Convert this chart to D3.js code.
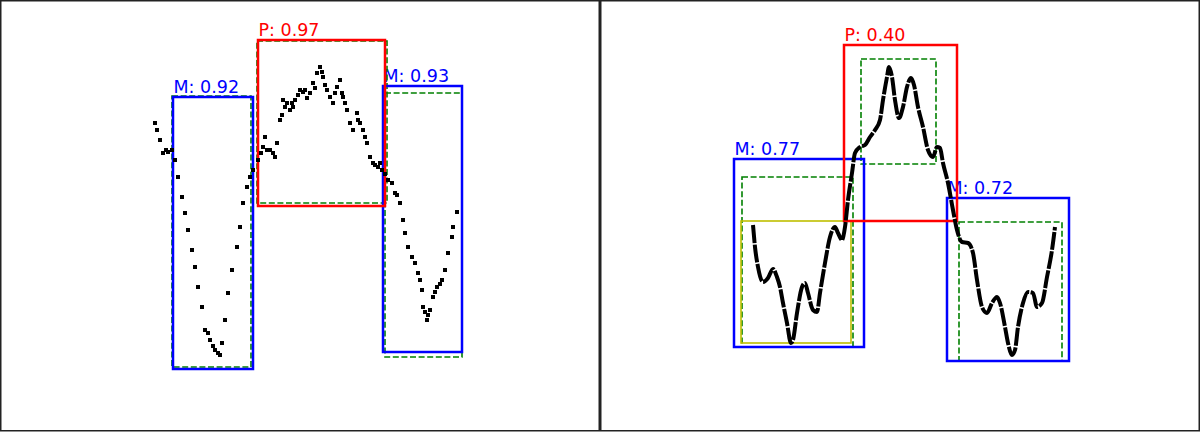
<!DOCTYPE html>
<html><head><meta charset="utf-8">
<script src="https://cdn.jsdelivr.net/npm/d3@7"></script>
<style>html,body{margin:0;padding:0;background:#fff;}svg{display:block;}</style>
</head><body>
<svg id="chart" width="1200" height="432"></svg>
<script>
// ---- Left panel: sparse noisy samples (time, flux) ----
const leftTime = [0,2,5,8,11,13,17,20,23,27,30,33,37,40,43,47,50,53,55,58,60,63,65,67,70,73,77,82,85,88,92,95,98,103,106,108,110,112,115,118,120,122,125,127,128,130,132,135,137,138,140,143,145,148,150,152,155,158,160,162,165,167,168,170,172,175,178,180,182,185,187,188,190,192,195,198,202,203,205,208,210,212,215,218,220,223,225,227,230,233,237,240,242,245,248,250,253,257,260,263,265,267,268,270,272,273,275,278,280,282,285,287,290,293,297,298,302];
const leftFlux = [0.87,0.80,0.70,0.57,0.60,0.58,0.60,0.50,0.33,0.13,-0.03,-0.20,-0.40,-0.57,-0.77,-0.97,-1.20,-1.23,-1.30,-1.36,-1.40,-1.43,-1.45,-1.33,-1.10,-0.83,-0.60,-0.37,-0.17,0.07,0.23,0.33,0.40,0.50,0.57,0.63,0.73,0.60,0.60,0.57,0.53,0.67,0.90,0.95,1.10,1.03,1.07,1.00,1.07,1.03,1.10,1.15,1.20,1.18,1.20,1.12,1.17,1.27,1.22,1.37,1.43,1.38,1.33,1.25,1.20,1.13,1.07,1.17,1.23,1.30,1.17,1.13,1.07,1.00,0.87,0.80,0.97,0.90,0.87,0.80,0.73,0.67,0.53,0.47,0.45,0.43,0.47,0.40,0.36,0.30,0.27,0.17,0.15,0.07,-0.10,-0.23,-0.37,-0.47,-0.53,-0.63,-0.70,-0.80,-0.97,-1.02,-1.10,-1.05,-1.00,-0.87,-0.82,-0.77,-0.74,-0.70,-0.60,-0.43,-0.27,-0.17,-0.02];

// ---- Right panel: dense smooth samples (time, flux) ----
const rightTime = [0,2,5,10,15,20,24,27,30,34,38,40,44,49,52,55,60,64,67,72,77,82,85,89,92,95,99,102,107,112,117,122,127,130,134,136,139,142,146,150,154,158,161,165,170,175,180,184,187,190,195,200,204,209,215,220,224,229,234,239,244,247,252,255,259,262,265,270,275,280,284,289,294,299,302];
const rightFlux = [-0.15,-0.37,-0.57,-0.72,-0.68,-0.59,-0.67,-0.77,-0.93,-1.13,-1.33,-1.30,-1.03,-0.77,-0.73,-0.83,-1.00,-1.02,-0.83,-0.53,-0.27,-0.17,-0.23,-0.30,-0.17,0.10,0.37,0.57,0.63,0.65,0.73,0.80,0.90,1.10,1.33,1.43,1.33,1.10,0.92,1.03,1.23,1.32,1.25,1.03,0.83,0.60,0.53,0.63,0.62,0.47,0.27,0.00,-0.20,-0.32,-0.33,-0.43,-0.70,-0.97,-1.03,-0.93,-0.87,-0.93,-1.17,-1.33,-1.45,-1.40,-1.17,-0.93,-0.82,-0.83,-0.97,-0.93,-0.67,-0.40,-0.17];

// ---- Boxes: label, kind, time span and flux span ----
const leftBoxLabels = ["M: 0.92", "P: 0.97", "M: 0.93"];
const leftBoxKinds  = ["M", "P", "M"];
const leftPredT0 = [18, 103, 228];
const leftPredT1 = [98, 230, 307];
const leftPredTop = [1.13, 1.70, 1.24];
const leftPredBot = [-1.59, 0.04, -1.42];
const leftTrueT0 = [17, 102, 230];
const leftTrueT1 = [96, 232, 307];
const leftTrueTop = [1.14, 1.69, 1.17];
const leftTrueBot = [-1.57, 0.07, -1.47];

const rightBoxLabels = ["M: 0.77", "P: 0.40", "M: 0.72"];
const rightBoxKinds  = ["M", "P", "M"];
const rightPredT0 = [-19, 91, 194];
const rightPredT1 = [111, 204, 316];
const rightPredTop = [0.51, 1.65, 0.12];
const rightPredBot = [-1.37, -0.11, -1.51];
const rightTrueT0 = [-11, 108, 206];
const rightTrueT1 = [100, 183, 309];
const rightTrueTop = [0.33, 1.51, -0.12];
const rightTrueBot = [-1.37, 0.46, -1.51];
// extra (yellow) box in right panel
const rightExtraT = [-12, 98];
const rightExtraF = [-0.11, -1.33];

const svg = d3.select("#chart");
const kindColor = {M: "#0000ff", P: "#ff0000"};

function drawPanel(x0, tDomain, cfg) {
  const g = svg.append("g");
  const x = d3.scaleLinear().domain(tDomain).range([x0, x0 + 599]);
  const y = d3.scaleLinear().domain([2.10, -2.21]).range([0, 431]);

  const preds = cfg.labels.map((l, i) => ({
    label: l, kind: cfg.kinds[i],
    t0: cfg.pT0[i], t1: cfg.pT1[i], top: cfg.pTop[i], bot: cfg.pBot[i]
  }));
  const truths = cfg.tT0.map((t, i) => ({t0: t, t1: cfg.tT1[i], top: cfg.tTop[i], bot: cfg.tBot[i]}));

  g.selectAll("text.lab").data(preds).join("text")
    .attr("class", "lab")
    .attr("x", d => x(d.t0) + 0.5)
    .attr("y", d => y(d.top) - 4)
    .attr("fill", d => kindColor[d.kind])
    .attr("font-family", "DejaVu Sans")
    .attr("font-size", "17.5px")
    .text(d => d.label);

  g.selectAll("rect.truth").data(truths).join("rect")
    .attr("class", "truth")
    .attr("x", d => x(d.t0)).attr("y", d => y(d.top))
    .attr("width", d => x(d.t1) - x(d.t0)).attr("height", d => y(d.bot) - y(d.top))
    .attr("fill", "none").attr("stroke", "#008000").attr("stroke-width", 1.6)
    .attr("stroke-dasharray", "6,2.6");

  if (cfg.extra) {
    g.append("rect")
      .attr("x", x(cfg.extra.t[0])).attr("y", y(cfg.extra.f[0]))
      .attr("width", x(cfg.extra.t[1]) - x(cfg.extra.t[0]))
      .attr("height", y(cfg.extra.f[1]) - y(cfg.extra.f[0]))
      .attr("fill", "none").attr("stroke", "#bfbf00").attr("stroke-width", 1.6);
  }

  const ordered = preds.slice().sort((a, b) => (a.kind === "P") - (b.kind === "P"));
  g.selectAll("rect.pred").data(ordered).join("rect")
    .attr("class", "pred")
    .attr("x", d => x(d.t0)).attr("y", d => y(d.top))
    .attr("width", d => x(d.t1) - x(d.t0)).attr("height", d => y(d.bot) - y(d.top))
    .attr("fill", "none").attr("stroke", d => kindColor[d.kind]).attr("stroke-width", 2.5);

  const pts = cfg.time.map((t, i) => ({t, f: cfg.flux[i]}));
  if (cfg.style === "dots") {
    g.selectAll("rect.pt").data(pts).join("rect")
      .attr("class", "pt")
      .attr("x", d => x(d.t) - 2).attr("y", d => y(d.f) - 2)
      .attr("width", 4).attr("height", 4).attr("fill", "#000");
  } else {
    g.append("path").datum(pts)
      .attr("d", d3.line().x(d => x(d.t)).y(d => y(d.f)).curve(d3.curveMonotoneX))
      .attr("fill", "none").attr("stroke", "#000").attr("stroke-width", 4)
      .attr("stroke-linejoin", "round")
      .attr("stroke-dasharray", "18,1.5");
  }

  g.append("rect").attr("x", x0 + 0.75).attr("y", 0.75).attr("width", 598.5).attr("height", 430)
    .attr("fill", "none").attr("stroke", "#222").attr("stroke-width", 1.5);
}

drawPanel(0, [-155, 444], {
  labels: leftBoxLabels, kinds: leftBoxKinds,
  pT0: leftPredT0, pT1: leftPredT1, pTop: leftPredTop, pBot: leftPredBot,
  tT0: leftTrueT0, tT1: leftTrueT1, tTop: leftTrueTop, tBot: leftTrueBot,
  time: leftTime, flux: leftFlux, style: "dots"
});
drawPanel(600, [-153, 446], {
  labels: rightBoxLabels, kinds: rightBoxKinds,
  pT0: rightPredT0, pT1: rightPredT1, pTop: rightPredTop, pBot: rightPredBot,
  tT0: rightTrueT0, tT1: rightTrueT1, tTop: rightTrueTop, tBot: rightTrueBot,
  extra: {t: rightExtraT, f: rightExtraF},
  time: rightTime, flux: rightFlux, style: "line"
});
</script>
</body></html>
